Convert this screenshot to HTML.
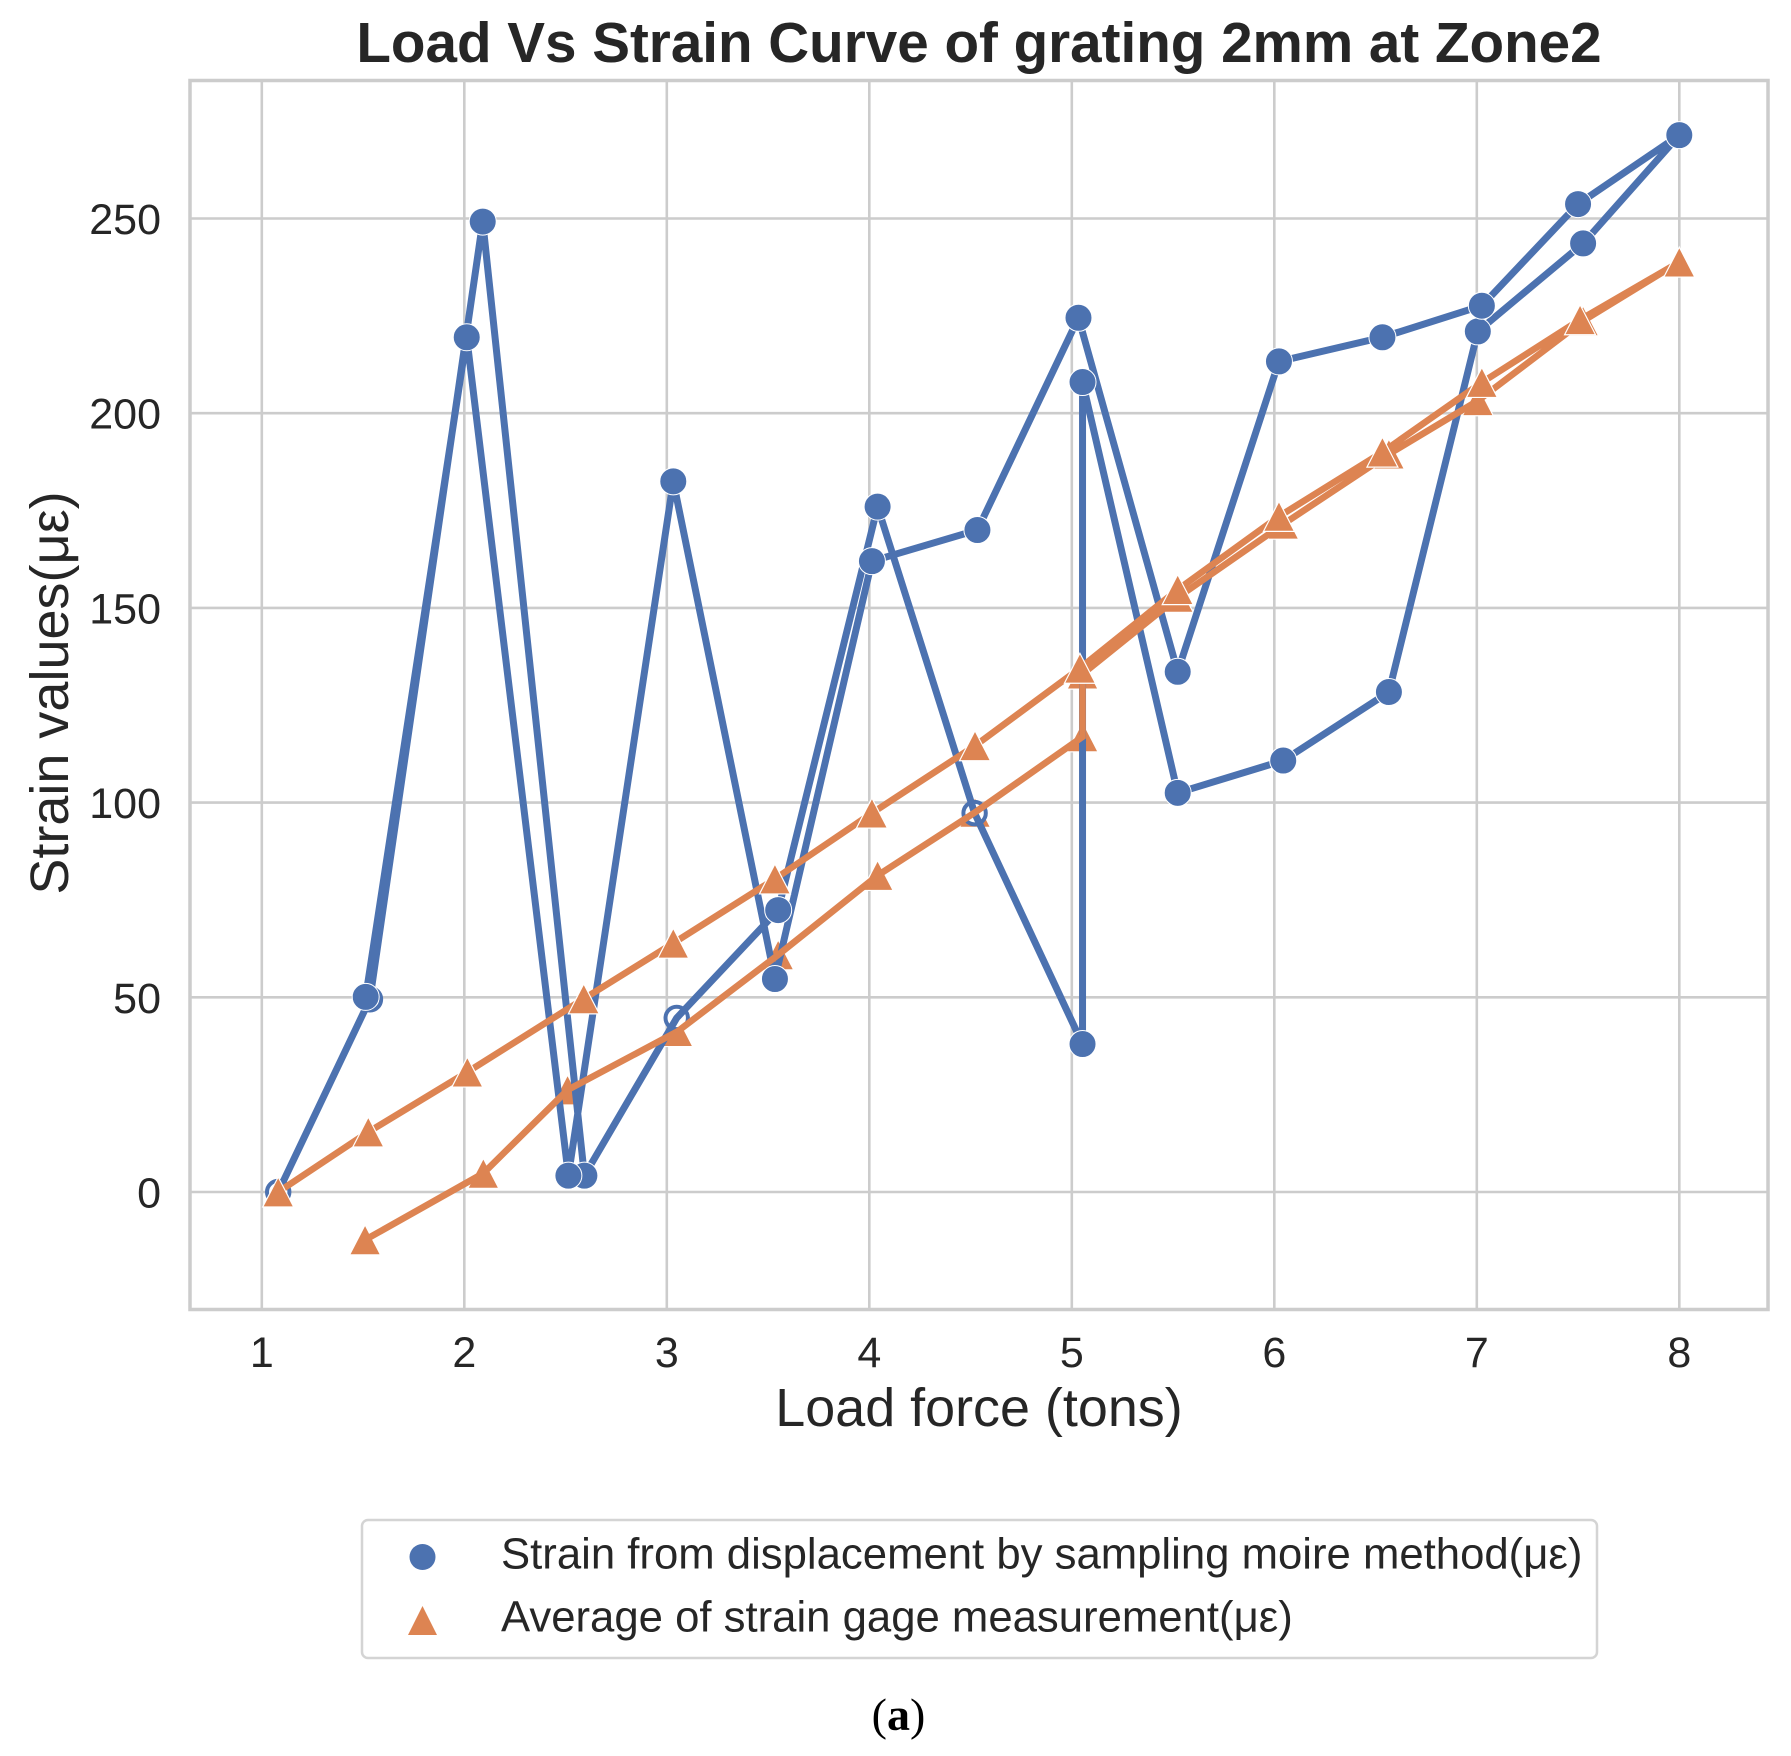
<!DOCTYPE html>
<html lang="en">
<head>
<meta charset="utf-8">
<title>Load Vs Strain Curve of grating 2mm at Zone2</title>
<style>
  html, body { margin: 0; padding: 0; background: #ffffff; }
  body { width: 1791px; height: 1756px; overflow: hidden; }
  svg { display: block; }
  text { font-family: "Liberation Sans", "DejaVu Sans", sans-serif; fill: #262626; }
</style>
</head>
<body>
<svg id="chart" xmlns="http://www.w3.org/2000/svg" width="1791" height="1756" viewBox="0 0 1791 1756">
  <rect x="0" y="0" width="1791" height="1756" fill="#ffffff"/>
  <text x="979" y="62" text-anchor="middle" font-size="56.6" font-weight="700">Load Vs Strain Curve of grating 2mm at Zone2</text>
  <g id="grid"></g>
  <rect x="190" y="80.5" width="1578" height="1229" fill="none" stroke="#cccccc" stroke-width="3.5"/>
  <g id="xticks"></g>
  <g id="yticks"></g>
  <text x="979" y="1426" text-anchor="middle" font-size="53.9">Load force (tons)</text>
  <text transform="translate(68,693) rotate(-90)" text-anchor="middle" font-size="54">Strain values(με)</text>
  <g id="marks"></g>
  <g>
    <rect x="362" y="1520" width="1235" height="138" rx="6" ry="6" fill="#ffffff" stroke="#d4d4d4" stroke-width="2.5"/>
    <circle cx="422.5" cy="1557" r="13" fill="#4c72b0"/>
    <text x="501" y="1568.5" font-size="43.7">Strain from displacement by sampling moire method(με)</text>
    <polygon points="422.5,1606 437,1635 408,1635" fill="#dd8452"/>
    <text x="501" y="1631.5" font-size="43.7">Average of strain gage measurement(με)</text>
  </g>
  <text x="898.5" y="1730" text-anchor="middle" font-size="46" style="font-family:'Liberation Serif',serif;fill:#000000">(<tspan font-weight="700">a</tspan>)</text>
</svg>
<script>
const xTickValues = [1, 2, 3, 4, 5, 6, 7, 8];
const yTickValues = [0, 50, 100, 150, 200, 250];

const blueLoad = [1.081, 1.534, 2.091, 2.593, 3.049, 3.55, 4.041, 4.52, 5.053, 5.053, 5.523, 6.044, 6.566, 7.005, 7.525, 8.0, 7.5, 7.025, 6.534, 6.023, 5.523, 5.033, 4.534, 4.013, 3.534, 3.032, 2.514, 2.012, 1.513];
const blueStrain = [0, 49.5, 249.2, 4.2, 44.7, 72.4, 176, 97.3, 38, 208, 102.5, 110.8, 128.4, 221, 243.6, 271.4, 253.7, 227.6, 219.5, 213.3, 133.6, 224.5, 170, 162, 54.7, 182.5, 4.2, 219.5, 50.1];
const blueHollowPoints = [0, 1, 4, 7];

const orangeLoad = [1.51, 2.094, 2.51, 3.052, 3.55, 4.041, 4.522, 5.053, 5.053, 5.523, 6.044, 6.566, 7.005, 7.525, 8.0, 7.51, 7.025, 6.534, 6.023, 5.523, 5.04, 4.522, 4.013, 3.534, 3.032, 2.59, 2.015, 1.526, 1.081];
const orangeStrain = [-12.3, 4.8, 26.2, 41.2, 60.9, 81.3, 97.5, 116.9, 133, 152.7, 171.5, 189.5, 203.2, 223.7, 238.8, 224, 207.9, 190, 173.5, 154.7, 134.5, 114.6, 97.3, 80.4, 63.9, 49.6, 30.8, 15.4, 0];
const orangeLowerCount = 14;

const SVG_NS = 'http://www.w3.org/2000/svg';
const BLUE = '#4c72b0';
const ORANGE = '#dd8452';
const xScale = v => 261.8 + (v - 1) * 202.5;
const yScale = v => 1192 - v * 3.894;

function make(tag, attrs, parent) {
  const el = document.createElementNS(SVG_NS, tag);
  for (const k in attrs) el.setAttribute(k, attrs[k]);
  parent.appendChild(el);
  return el;
}

const grid = document.getElementById('grid');
const xticks = document.getElementById('xticks');
const yticks = document.getElementById('yticks');
const marks = document.getElementById('marks');

xTickValues.forEach(v => {
  const line = make('line', { x1: xScale(v), x2: xScale(v), y1: 81, y2: 1309, stroke: '#cccccc', 'stroke-width': 2.6 }, grid);
  
  
  const label = make('text', { x: xScale(v), y: 1367, 'text-anchor': 'middle', 'font-size': 43 }, xticks);
  label.textContent = v;
  
  
});

yTickValues.forEach(v => {
  const line = make('line', { x1: 191, x2: 1767, y1: yScale(v), y2: yScale(v), stroke: '#cccccc', 'stroke-width': 2.6 }, grid);
  
  
  const label = make('text', { x: yTickLabelRight(), y: yScale(v) + 15.5, 'text-anchor': 'end', 'font-size': 43 }, yticks);
  label.textContent = v;
  
  
});

function yTickLabelRight() { return 161; }

function triangle(load, strain) {
  const cx = xScale(load), cy = yScale(strain);
  const el = make('polygon', {
    points: cx + ',' + (cy - 15) + ' ' + (cx + 15.5) + ',' + (cy + 15) + ' ' + (cx - 15.5) + ',' + (cy + 15),
    fill: ORANGE, stroke: '#ffffff', 'stroke-width': 1.2
  }, marks);
  
  
}

function polyline(xs, ys, color, width, name) {
  const pts = xs.map((x, i) => xScale(x) + ',' + yScale(ys[i])).join(' ');
  const el = make('polyline', { points: pts, fill: 'none', stroke: color, 'stroke-width': width, 'stroke-linejoin': 'miter', 'stroke-miterlimit': 3 }, marks);
  
  
}

orangeLoad.forEach((x, i) => { if (i < orangeLowerCount) triangle(x, orangeStrain[i]); });

blueHollowPoints.forEach(i => {
  const ring = make('circle', { cx: xScale(blueLoad[i]), cy: yScale(blueStrain[i]), r: 11.2, fill: '#ffffff', stroke: BLUE, 'stroke-width': 4 }, marks);
  
  
});

polyline(blueLoad, blueStrain, BLUE, 7, 'moire-strain-line');

blueLoad.forEach((x, i) => {
  if (blueHollowPoints.includes(i)) return;
  const dot = make('circle', { cx: xScale(x), cy: yScale(blueStrain[i]), r: 13.5, fill: BLUE, stroke: '#ffffff', 'stroke-width': 1 }, marks);
  
  
});

polyline(orangeLoad, orangeStrain, ORANGE, 6.6, 'strain-gage-line');

orangeLoad.forEach((x, i) => { if (i >= orangeLowerCount) triangle(x, orangeStrain[i]); });
</script>
</body>
</html>
